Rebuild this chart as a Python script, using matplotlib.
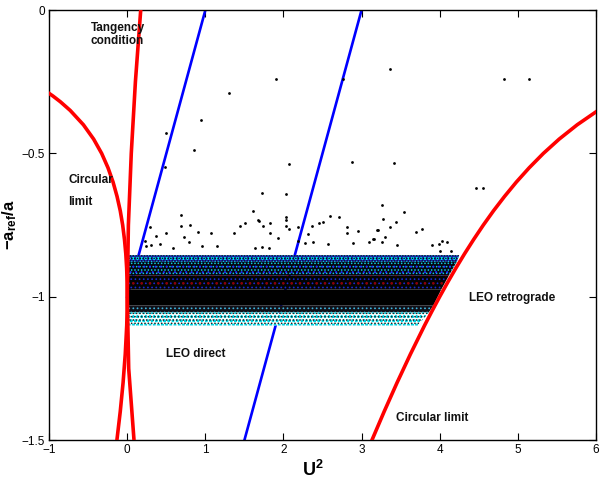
import matplotlib
matplotlib.use("Agg")
import matplotlib.pyplot as plt

plt.rcParams['font.family'] = ['Liberation Sans', 'DejaVu Sans']
plt.rcParams['mathtext.fontset'] = 'custom'
plt.rcParams['mathtext.rm'] = 'Liberation Sans'
plt.rcParams['mathtext.bf'] = 'Liberation Sans:bold'
plt.rcParams['mathtext.it'] = 'Liberation Sans:italic'
plt.rcParams['hatch.linewidth'] = 0.7

# ---- data ----
# circular limit, direct branch (U^2, -a_ref/a)
circ_dir_x = [-1.004, -0.951, -0.856, -0.731, -0.562, -0.431, -0.328, -0.247, -0.182, -0.131,
              -0.090, -0.059, -0.036, -0.019, -0.008, -0.002, 0.0, -0.002, -0.007, -0.026,
              -0.054, -0.090, -0.133]
circ_dir_y = [-0.29, -0.30, -0.32, -0.35, -0.40, -0.45, -0.50, -0.55, -0.60, -0.65,
              -0.70, -0.75, -0.80, -0.85, -0.90, -0.95, -1.00, -1.05, -1.10, -1.20,
              -1.30, -1.40, -1.50]
# circular limit, retrograde branch
circ_ret_x = [6.002, 5.762, 5.531, 5.328, 5.147, 4.982, 4.831, 4.690, 4.559, 4.436, 4.319,
              4.208, 4.102, 4.000, 3.902, 3.807, 3.626, 3.454, 3.290, 3.133]
circ_ret_y = [-0.355, -0.40, -0.45, -0.50, -0.55, -0.60, -0.65, -0.70, -0.75, -0.80, -0.85,
              -0.90, -0.95, -1.00, -1.05, -1.10, -1.20, -1.30, -1.40, -1.50]
# tangency condition
tang_x = [0.172, 0.104, 0.051, 0.014, 0.0, 0.018, 0.086]
tang_y = [0.0, -0.25, -0.50, -0.75, -1.00, -1.25, -1.50]
# blue lines
blue1_x = [1.0, 0.0]
blue1_y = [0.0, -1.0]
blue2_x = [3.0, 1.5]
blue2_y = [0.0, -1.5]

# dense cloud, drawn as horizontal strata (top y, bottom y, right edge x at top / bottom)
strata_top = [-0.855, -0.878, -0.925, -0.975, -1.030, -1.055]
strata_bot = [-0.878, -0.925, -0.975, -1.030, -1.055, -1.100]
strata_xr_top = [4.25, 4.22, 4.12, 4.02, 3.92, 3.86]
strata_xr_bot = [4.22, 4.12, 4.02, 3.92, 3.86, 3.72]
strata_face = ['#1a2ab0', '#050510', '#030303', 'black', '#101018', '#f6ffff']
strata_hatch = [['oooo', '#00e0f0'], ['.....', '#10d0e0'], ['....', '#1828d0'],
                [None, None], ['....', '#40b8e0'], ['oooo', '#00d8e8']]
strata_hatch2 = [['......', '#000000'], ['...', '#2030ff'], ['..', '#900000'],
                 [None, None], [None, None], ['.....', '#202020']]

# sparse outliers
out_x = [1.90, 2.76, 1.30, 0.95, 0.50, 0.86, 0.48, 2.07, 2.88, 1.72, 2.03, 1.61, 0.69, 2.03,
         2.03, 1.67, 1.69, 2.60, 2.71, 0.29, 0.69, 0.80, 1.44, 1.51, 1.74, 1.83, 2.03, 2.07,
         2.36, 2.46, 2.51, 2.19, 2.82, 2.81, 2.96, 3.21, 0.49, 0.90, 1.07, 1.37, 1.83, 1.93,
         2.32, 0.37, 0.73, 0.23, 0.30, 0.42, 0.79, 0.58, 0.96, 1.15, 1.64, 1.73, 1.82, 2.19,
         2.28, 2.38, 2.57, 2.89, 3.10, 3.16, 3.37, 4.83, 5.15, 3.41, 4.46, 4.55, 3.26, 3.28,
         3.54, 3.37, 3.44, 3.20, 3.15, 3.30, 3.26, 3.46, 3.70, 3.78, 3.90, 3.99, 4.03, 4.10,
         4.00, 4.15, 0.24]
out_y = [-0.242, -0.242, -0.290, -0.384, -0.428, -0.488, -0.547, -0.536, -0.531, -0.639,
         -0.642, -0.700, -0.715, -0.720, -0.733, -0.733, -0.737, -0.717, -0.721, -0.758,
         -0.752, -0.749, -0.753, -0.744, -0.753, -0.744, -0.753, -0.765, -0.753, -0.744,
         -0.738, -0.758, -0.758, -0.777, -0.771, -0.768, -0.779, -0.774, -0.779, -0.778,
         -0.779, -0.794, -0.781, -0.788, -0.792, -0.806, -0.820, -0.815, -0.810, -0.829,
         -0.824, -0.824, -0.829, -0.828, -0.831, -0.806, -0.813, -0.808, -0.815, -0.814,
         -0.809, -0.800, -0.207, -0.242, -0.242, -0.535, -0.622, -0.622, -0.680, -0.729,
         -0.705, -0.755, -0.738, -0.768, -0.800, -0.793, -0.809, -0.821, -0.773, -0.765,
         -0.819, -0.815, -0.807, -0.810, -0.842, -0.842, -0.823]

x_ticks = [-1, 0, 1, 2, 3, 4, 5, 6]
y_ticks = [-1.5, -1.0, -0.5, 0.0]
y_tick_labels = ['\u22121.5', '\u22121', '\u22120.5', '0']

fig = plt.figure(figsize=(6, 4.8), dpi=100)
ax = fig.add_axes([0.082, 0.083, 0.911, 0.896])

# blue lines under the cloud
ax.plot(blue1_x, blue1_y, color='#0000ff', lw=1.9, zorder=2)
ax.plot(blue2_x, blue2_y, color='#0000ff', lw=1.9, zorder=2)

# dense cloud
for i in range(len(strata_top)):
    px = [0.0, strata_xr_top[i], strata_xr_bot[i], 0.0]
    py = [strata_top[i], strata_top[i], strata_bot[i], strata_bot[i]]
    ax.fill(px, py, facecolor=strata_face[i], edgecolor='none', lw=0, zorder=3)
    h, c = strata_hatch[i]
    if h:
        ax.fill(px, py, facecolor='none', edgecolor=c, hatch=h, lw=0, zorder=3.2)
    h2, c2 = strata_hatch2[i]
    if h2:
        ax.fill(px, py, facecolor='none', edgecolor=c2, hatch=h2, lw=0, zorder=3.4)

ax.plot(out_x, out_y, 'o', color='black', ms=2.0, mew=0, zorder=5)

# red curves on top
ax.plot(circ_dir_x, circ_dir_y, color='#ff0000', lw=2.6, zorder=6, solid_joinstyle='round')
ax.plot(circ_ret_x, circ_ret_y, color='#ff0000', lw=2.6, zorder=6, solid_joinstyle='round')
ax.plot(tang_x, tang_y, color='#ff0000', lw=2.6, zorder=6, solid_joinstyle='round')

ax.set_xlim(-1, 6)
ax.set_ylim(-1.5, 0)
ax.set_xticks(x_ticks)
ax.set_yticks(y_ticks)
ax.set_yticklabels(y_tick_labels)
ax.tick_params(direction='in', top=True, right=True, length=5, width=0.8,
               labelsize=8.5, pad=3)
for s in ax.spines.values():
    s.set_linewidth(1.0)

ax.set_xlabel(r'$\mathbf{U^2}$', fontsize=13)
ax.xaxis.set_label_coords(0.483, -0.045)
ax.set_ylabel(r'$\mathbf{-a_{ref}/a}$', fontsize=12)
ax.yaxis.set_label_coords(-0.055, 0.5)

tk = dict(fontsize=8.5, fontweight='bold', color='#111111', zorder=7)
ax.text(-0.47, -0.04, 'Tangency\ncondition', ha='left', va='top', linespacing=1.2, **tk)
ax.text(-0.755, -0.593, 'Circular', ha='left', va='center', **tk)
ax.text(-0.755, -0.669, 'limit', ha='left', va='center', **tk)
ax.text(0.50, -1.198, 'LEO direct', ha='left', va='center', **tk)
ax.text(4.37, -1.005, 'LEO retrograde', ha='left', va='center', **tk)
ax.text(3.44, -1.423, 'Circular limit', ha='left', va='center', **tk)

fig.savefig('out.png', dpi=100)
